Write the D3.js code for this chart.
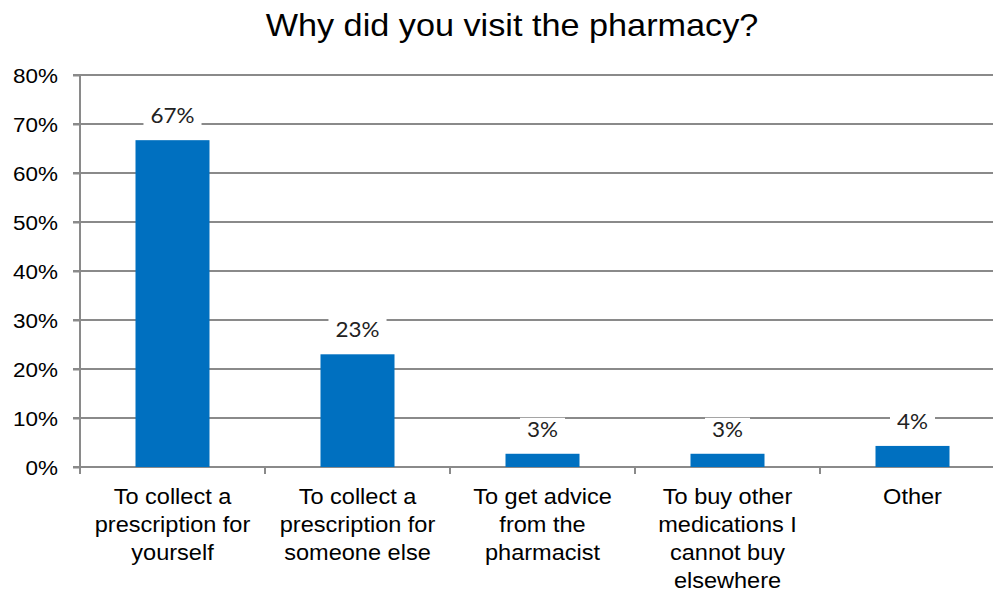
<!DOCTYPE html>
<html><head><meta charset="utf-8">
<script src="https://cdn.jsdelivr.net/npm/d3@7"></script>
<style>body{margin:0;background:#fff}svg{display:block}</style>
</head><body>
<svg id="c" width="993" height="592"></svg>
<script>
const categories = [
  ["To collect a","prescription for","yourself"],
  ["To collect a","prescription for","someone else"],
  ["To get advice","from the","pharmacist"],
  ["To buy other","medications I","cannot buy","elsewhere"],
  ["Other"]
];
const values = [0.667, 0.23, 0.027, 0.027, 0.043];
const valueLabels = ["67%","23%","3%","3%","4%"];
const yTicks = [0,0.1,0.2,0.3,0.4,0.5,0.6,0.7,0.8];
const title = "Why did you visit the pharmacy?";

const svg = d3.select("#c");
const sx = 1.07;
const keys = categories.map((c,i)=>i);
const x = d3.scaleBand().domain(keys).range([80,1005]).paddingInner(0.6).paddingOuter(0.3);
const y = d3.scaleLinear().domain([0,0.8]).range([467,75]);
const grid = "#8a8a8a";
const font = "'Liberation Sans', Arial, sans-serif";

function stext(g, tx, ty, str, size, fam, anchor){
  return g.append("text").attr("transform",`translate(${tx},${ty}) scale(${sx},1)`)
    .attr("text-anchor",anchor||"middle").attr("font-family",fam||font).attr("font-size",size)
    .attr("fill","#000").text(str);
}

// title
stext(svg, 512, 36, title, 32);

// gridlines
svg.append("g").selectAll("line").data(yTicks.slice(1)).join("line")
  .attr("x1",73).attr("x2",993).attr("y1",d=>y(d)).attr("y2",d=>y(d))
  .attr("stroke",grid).attr("stroke-width",2);

// y axis
const ya = svg.append("g").attr("transform","translate(80,0)")
  .call(d3.axisLeft(y).tickValues(yTicks).tickSize(7).tickFormat(d3.format(".0%")));
ya.select(".domain").remove();
ya.selectAll("line").attr("stroke",grid).attr("stroke-width",2);
ya.selectAll("text").remove();
yTicks.forEach(t=>stext(svg, 58, y(t)+8, d3.format(".0%")(t), 21, font, "end"));
svg.append("line").attr("x1",80).attr("x2",80).attr("y1",y(0.8)).attr("y2",y(0)+7)
  .attr("stroke",grid).attr("stroke-width",2);

// x axis
svg.append("line").attr("x1",73).attr("x2",993).attr("y1",y(0)).attr("y2",y(0))
  .attr("stroke",grid).attr("stroke-width",2);
const step = x.step();
svg.append("g").selectAll("line").data(keys.slice(1)).join("line")
  .attr("x1",d=>x(d)-x.paddingOuter()*step).attr("x2",d=>x(d)-x.paddingOuter()*step)
  .attr("y1",y(0)).attr("y2",y(0)+7).attr("stroke",grid).attr("stroke-width",2);

// bars
svg.append("g").selectAll("rect").data(values).join("rect")
  .attr("x",(d,i)=>x(i)).attr("width",x.bandwidth())
  .attr("y",d=>y(d)).attr("height",d=>y(0)-y(d)).attr("fill","#0070c0");

// value labels
const lg = svg.append("g");
values.forEach((v,i)=>{
  const cx = x(i)+x.bandwidth()/2;
  const by = y(v)-17;
  const t = stext(lg, cx, by, valueLabels[i], 21, "Lato, 'Open Sans', sans-serif");
  t.attr("fill","#222");
  const w = t.node().getBBox().width*sx;
  lg.insert("rect", "text").attr("x",cx-w/2-7).attr("width",w+14)
    .attr("y",by-19).attr("height",24).attr("fill","#fff");
});

// category labels
categories.forEach((lines,i)=>{
  const cx = x(i)+x.bandwidth()/2;
  lines.forEach((ln,j)=>stext(svg, cx, 504+j*28, ln, 22));
});
</script>
</body></html>
